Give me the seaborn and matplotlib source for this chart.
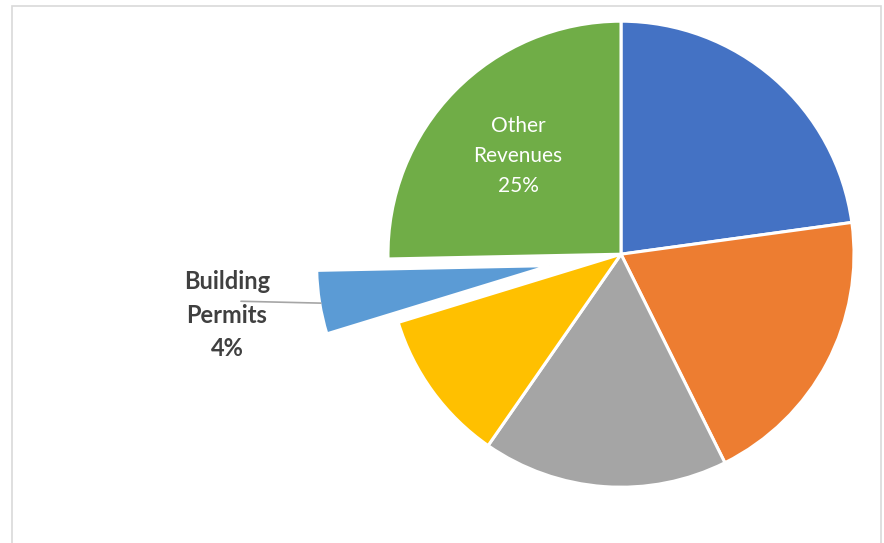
import matplotlib
matplotlib.use("Agg")
import matplotlib.pyplot as plt
import seaborn as sns
from matplotlib.patches import Rectangle

# ---- data ----
categories = ["Property Taxes", "Sales Taxes", "Charges for Services",
              "Intergovernmental", "Building Permits", "Other Revenues"]
values = [22.8, 19.8, 17.0, 10.6, 4.4, 25.3]
label_texts = {"Building Permits": "Building\nPermits\n4%",
               "Other Revenues": "Other\nRevenues\n25%"}
colors_hex = ["#4472C4", "#ED7D31", "#A5A5A5", "#FFC000", "#5B9BD5", "#70AD47"]
explode_amt = [0, 0, 0, 0, 0.31, 0]

sns.set_theme(style="white")
plt.rcParams['font.family'] = ['Lato', 'DejaVu Sans']
palette = sns.color_palette(colors_hex)

W, H = 884, 543
fig = plt.figure(figsize=(W / 100, H / 100), dpi=100)
ax = fig.add_axes([0, 0, 1, 1])

cx, cy, r = 621.0, 254.2, 233.0
wedges, _ = ax.pie(values, colors=palette, startangle=90, counterclock=False,
                   explode=explode_amt,
                   wedgeprops=dict(edgecolor="white", linewidth=2.2, antialiased=True))

ax.set_xlim(-cx / r, (W - cx) / r)
ax.set_ylim(-(H - cy) / r, cy / r)
ax.set_aspect("auto")
ax.axis("off")

# chart border
fig.patches.append(Rectangle((12 / W, -0.02), (881 - 12) / W, 1.02 - 6 / H,
                             transform=fig.transFigure, fill=False,
                             edgecolor="#D9D9D9", linewidth=1.2))

# labels
ax.text(-0.442, 0.421, label_texts["Other Revenues"], color="white",
        fontsize=15, ha="center", va="center", linespacing=1.64)
ax.plot([-1.631, -1.288], [-0.202, -0.210], color="#A6A6A6", linewidth=1.2)
ax.text(-1.691, -0.261, label_texts["Building Permits"], color="#404040",
        fontsize=17, fontweight="bold", ha="center", va="center", linespacing=1.57)

fig.savefig("out.png", dpi=100)
